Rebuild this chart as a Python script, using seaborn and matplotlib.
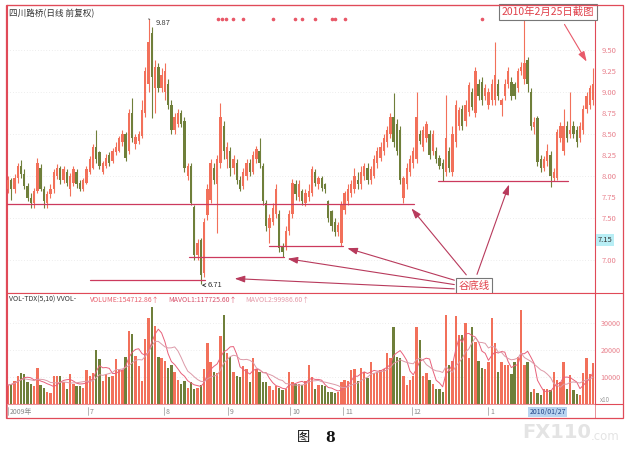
import numpy as np
import pandas as pd
import matplotlib.pyplot as plt
import seaborn as sns
from matplotlib.patches import Rectangle
from matplotlib.lines import Line2D

sns.set_style('white')
plt.rcParams['font.family'] = ['Noto Sans CJK SC', 'DejaVu Sans']

# daily candles, 四川路桥 2009-06 .. 2010-02-25
opens = [
    7.85, 7.95, 7.85, 7.98, 8.12, 8.02, 7.88, 7.74, 7.68, 7.82,
    8.10, 7.85, 7.68, 7.78, 7.84, 8.00, 8.10, 7.95, 8.05, 7.85,
    7.92, 8.05, 7.92, 7.85, 7.92, 8.05, 8.10, 8.35, 8.28, 8.05,
    8.12, 8.25, 8.18, 8.28, 8.30, 8.40, 8.50, 8.30, 8.75, 8.38,
    8.42, 8.48, 8.75, 9.10, 9.70, 9.05, 9.30, 9.05, 9.00, 9.10,
    8.85, 8.55, 8.62, 8.75, 8.65, 8.00, 8.12, 7.63, 7.06, 7.24,
    6.84, 7.54, 7.72, 8.10, 7.90, 8.15, 8.60, 8.20, 8.30, 8.10,
    8.15, 7.95, 7.88, 8.00, 8.15, 8.05, 8.20, 8.30, 8.12, 7.68,
    7.38, 7.45, 7.55, 7.55, 7.15, 7.15, 7.35, 7.55, 7.90, 7.75,
    7.82, 7.68, 7.75, 7.80, 8.05, 7.90, 7.98, 7.90, 7.70, 7.58,
    7.45, 7.33, 7.20, 7.60, 7.70, 7.80, 7.85, 7.95, 7.90, 8.00,
    8.10, 7.95, 8.00, 8.15, 8.22, 8.30, 8.40, 8.50, 8.70, 8.62,
    8.55, 7.74, 7.90, 8.05, 8.15, 8.20, 8.50, 8.35, 8.45, 8.50,
    8.30, 8.30, 8.22, 8.15, 8.05, 8.30, 8.05, 8.40, 8.60, 8.80,
    8.65, 8.76, 9.00, 8.75, 9.10, 9.12, 8.95, 8.85, 8.90, 8.90,
    9.10, 8.85, 8.95, 9.10, 9.12, 9.10, 9.05, 9.25, 9.15, 9.38,
    9.00, 8.58, 8.69, 8.20, 8.10, 8.18, 8.25, 7.98, 7.98, 8.45,
    8.30, 8.60, 8.50, 8.60, 8.55, 8.45, 8.55, 8.80, 8.85, 8.90,
]
highs = [
    8.00, 7.98, 8.02, 8.15, 8.19, 8.08, 7.92, 7.80, 7.86, 8.21,
    8.14, 7.88, 7.82, 7.90, 8.08, 8.14, 8.12, 8.12, 8.08, 8.04,
    8.12, 8.08, 7.95, 7.98, 8.12, 8.24, 8.38, 8.55, 8.30, 8.18,
    8.26, 8.28, 8.33, 8.40, 8.48, 8.55, 8.52, 8.80, 8.93, 8.50,
    8.54, 8.90, 9.30, 9.87, 9.78, 9.38, 9.35, 9.28, 9.35, 9.15,
    8.90, 8.75, 8.80, 8.78, 8.70, 8.15, 8.15, 7.65, 7.25, 7.26,
    7.50, 7.90, 8.20, 8.15, 8.25, 8.87, 8.65, 8.40, 8.35, 8.25,
    8.20, 8.00, 8.10, 8.20, 8.20, 8.30, 8.36, 8.45, 8.15, 7.72,
    7.55, 7.68, 7.90, 7.60, 7.20, 7.40, 7.60, 7.96, 7.95, 7.95,
    7.85, 7.85, 7.90, 8.12, 8.08, 8.00, 8.00, 7.92, 7.72, 7.60,
    7.50, 7.45, 7.70, 7.82, 7.90, 7.95, 8.10, 8.05, 8.12, 8.15,
    8.15, 8.12, 8.25, 8.35, 8.40, 8.50, 8.60, 8.75, 8.99, 8.68,
    8.60, 8.00, 8.15, 8.25, 8.35, 9.00, 8.55, 8.60, 8.66, 8.55,
    8.55, 8.35, 8.25, 8.20, 8.96, 8.35, 8.60, 8.90, 8.82, 8.85,
    8.90, 9.12, 9.05, 9.30, 9.15, 9.18, 9.10, 9.05, 9.15, 9.60,
    9.15, 8.93, 9.15, 9.30, 9.18, 9.12, 9.28, 9.36, 9.86, 9.42,
    9.05, 8.70, 8.72, 8.25, 8.24, 8.38, 8.30, 8.10, 8.56, 8.64,
    8.80, 8.65, 9.00, 8.65, 8.60, 8.64, 8.84, 9.00, 9.08, 9.29,
]
lows = [
    7.80, 7.72, 7.80, 7.92, 7.98, 7.84, 7.70, 7.62, 7.62, 7.80,
    7.82, 7.62, 7.62, 7.74, 7.80, 7.96, 7.90, 7.92, 7.88, 7.76,
    7.88, 7.86, 7.82, 7.82, 7.90, 8.02, 8.08, 8.15, 8.08, 8.02,
    8.10, 8.12, 8.15, 8.25, 8.28, 8.36, 8.18, 8.26, 8.40, 8.32,
    8.38, 8.45, 8.70, 9.00, 8.69, 8.75, 9.00, 9.00, 8.90, 8.80,
    8.50, 8.50, 8.58, 8.58, 8.05, 7.95, 7.65, 7.00, 7.00, 6.71,
    6.80, 7.48, 7.68, 7.90, 7.32, 8.10, 8.20, 8.10, 8.00, 8.02,
    7.90, 7.82, 7.85, 7.95, 8.00, 8.02, 8.15, 8.10, 7.66, 7.35,
    7.20, 7.42, 7.50, 7.10, 7.04, 7.12, 7.30, 7.50, 7.72, 7.70,
    7.65, 7.64, 7.70, 7.76, 7.88, 7.85, 7.82, 7.80, 7.45, 7.35,
    7.28, 7.28, 7.17, 7.55, 7.65, 7.75, 7.80, 7.85, 7.85, 7.95,
    7.90, 7.90, 7.98, 8.10, 8.18, 8.25, 8.35, 8.45, 8.35, 8.25,
    7.90, 7.68, 7.85, 8.00, 8.10, 8.15, 8.38, 8.30, 8.40, 8.20,
    8.25, 8.15, 8.08, 7.94, 8.00, 8.05, 8.00, 8.35, 8.55, 8.55,
    8.60, 8.72, 8.78, 8.70, 8.90, 8.85, 8.90, 8.80, 8.85, 8.85,
    8.90, 8.72, 8.90, 9.05, 8.90, 8.92, 9.00, 9.20, 9.10, 9.00,
    8.55, 8.50, 8.12, 8.05, 8.06, 8.12, 7.87, 7.94, 7.95, 8.40,
    8.25, 8.40, 8.45, 8.45, 8.35, 8.40, 8.50, 8.75, 8.80, 8.85,
]
closes = [
    7.95, 7.85, 7.98, 8.12, 8.02, 7.88, 7.74, 7.68, 7.82, 8.15,
    7.85, 7.70, 7.78, 7.84, 8.05, 8.10, 7.95, 8.08, 7.92, 8.00,
    8.08, 7.90, 7.85, 7.95, 8.08, 8.20, 8.35, 8.20, 8.12, 8.15,
    8.22, 8.15, 8.30, 8.35, 8.45, 8.50, 8.22, 8.75, 8.45, 8.47,
    8.50, 8.78, 9.25, 9.60, 9.18, 9.30, 9.05, 9.20, 9.25, 8.85,
    8.55, 8.70, 8.75, 8.62, 8.10, 8.12, 7.68, 7.06, 7.20, 6.82,
    7.45, 7.85, 8.15, 7.95, 8.20, 8.70, 8.30, 8.35, 8.10, 8.20,
    7.95, 7.85, 8.05, 8.15, 8.05, 8.25, 8.32, 8.15, 7.70, 7.40,
    7.50, 7.62, 7.85, 7.14, 7.10, 7.35, 7.55, 7.92, 7.78, 7.90,
    7.70, 7.80, 7.82, 8.08, 7.92, 7.98, 7.86, 7.85, 7.50, 7.40,
    7.33, 7.42, 7.65, 7.80, 7.85, 7.90, 8.00, 7.90, 8.05, 8.12,
    7.95, 8.08, 8.20, 8.30, 8.35, 8.45, 8.55, 8.70, 8.40, 8.30,
    7.95, 7.98, 8.10, 8.20, 8.30, 8.70, 8.42, 8.55, 8.62, 8.25,
    8.50, 8.20, 8.12, 8.08, 8.45, 8.10, 8.50, 8.85, 8.78, 8.60,
    8.85, 9.08, 8.82, 9.25, 8.95, 8.90, 9.05, 9.00, 9.10, 9.20,
    8.95, 8.90, 9.10, 9.25, 8.95, 8.95, 9.25, 9.30, 9.35, 9.10,
    8.60, 8.64, 8.17, 8.10, 8.20, 8.30, 8.00, 8.05, 8.52, 8.60,
    8.60, 8.45, 8.55, 8.50, 8.40, 8.60, 8.80, 8.95, 9.05, 9.10,
]
volumes = [
    7000, 7500, 8500, 10500, 11500, 11000, 8000, 7500, 6500, 13500,
    7000, 6000, 4500, 4200, 10500, 10500, 10500, 8000, 5500, 11000,
    7500, 6500, 6500, 6000, 12500, 10500, 11500, 20000, 16500, 8500,
    11000, 10000, 10500, 16500, 12500, 12700, 17500, 27000, 26000, 17800,
    14000, 8500, 24000, 32000, 36000, 29000, 17500, 17000, 16000, 13500,
    14500, 12000, 9000, 7500, 8500, 6000, 8000, 5500, 6000, 7000,
    13000, 22500, 15500, 11700, 11500, 25000, 33000, 18800, 17500, 12000,
    10500, 10000, 14000, 13000, 8000, 17000, 13000, 12000, 8000, 8000,
    6500, 5000, 6500, 6000, 5000, 5500, 12000, 8000, 7500, 7500,
    7000, 8500, 14500, 10000, 5500, 7000, 7000, 6500, 4500, 4500,
    4000, 4500, 8300, 9000, 8500, 12500, 13000, 8500, 13500, 12000,
    9500, 15700, 11500, 12000, 12500, 13000, 18800, 17000, 28600, 17500,
    17000, 10500, 7000, 9000, 10500, 28600, 23700, 10500, 11500, 9000,
    7500, 5500, 5500, 4300, 33000, 14500, 16000, 32700, 25500, 25500,
    30000, 17000, 28600, 22800, 16000, 13500, 13000, 15500, 31700, 22500,
    11700, 15700, 14500, 14500, 11000, 15500, 17300, 34800, 14500, 15500,
    4500, 5500, 4000, 3500, 5500, 5500, 5000, 11700, 9000, 8000,
    15700, 5500, 10700, 5000, 3800, 3500, 11500, 17200, 11000, 15300,
]

# month labels on the date strip (candle index where each month starts)
month_labels = ['2009年', '7', '8', '9', '10', '11', '12', '1']
month_pos = [0, 24.5, 47.7, 67.3, 86.3, 102.5, 123.5, 147]

# 谷底线 (valley lines): start index, end index, price
valley_start = [-0.3, 80.0, 55.5, 25.0, 131.5]
valley_end = [124.3, 102.5, 84.3, 60.3, 171.3]
valley_price = [7.67, 7.17, 7.04, 6.76, 7.94]

# arrow tips on the valley lines
arrow_tip_x = [103.0, 122.9, 153.6, 84.7, 68.5]
arrow_tip_y = [7.15, 7.64, 7.93, 7.02, 6.78]

# little red signal dots along the top
signal_idx = [64.3, 65.5, 66.7, 68.8, 71.9, 81.1, 87.8, 90.0, 93.9, 99.1, 100.1, 103.1, 144.9]

price_ticks = [7.00, 7.50, 7.75, 8.00, 8.25, 8.50, 8.75, 9.00, 9.25, 9.50]
vol_ticks = [10000, 20000, 30000]

UP = '#f2705a'
DOWN = '#6f7f3a'
FRAME = '#e04a58'
AXTXT = '#e8808c'
LINE = '#cc3a5e'

df = pd.DataFrame({'open': opens, 'high': highs, 'low': lows,
                   'close': closes, 'volume': volumes})
df['idx'] = np.arange(len(df))
df['color'] = np.where(df['close'] >= df['open'], UP, DOWN)
df['ma5'] = df['volume'].rolling(5, min_periods=1).mean()
df['ma10'] = df['volume'].rolling(10, min_periods=1).mean()

W, H = 630, 451
fig = plt.figure(figsize=(W / 100, H / 100), dpi=100)


def rect(x0, y0, x1, y1):
    return [x0 / W, 1 - y1 / H, (x1 - x0) / W, (y1 - y0) / H]


def fpos(x, y):
    return x / W, 1 - y / H


def to_data(x, y):
    # pixel in the scan -> (candle index, price)
    return (x - 8) / 3.268, 7 + (260 - y) / 84


ax = fig.add_axes(rect(7, 5, 595, 293))
axv = fig.add_axes(rect(7, 293, 595, 404))
axd = fig.add_axes(rect(7, 404, 595, 418))

xlim = (-0.3, 179.6)

# ---- price panel
for lv in [7.0, 7.5, 8.0, 8.5, 9.0, 9.5]:
    ax.axhline(lv, color='#dcdcdc', lw=0.5, ls=(0, (1, 3)), zorder=0)
ax.vlines(df['idx'], df['low'], df['high'], colors=df['color'], lw=0.8, zorder=2)
body = (df['close'] - df['open']).abs().clip(lower=0.012)
ax.bar(df['idx'], body, bottom=df[['open', 'close']].min(axis=1), width=0.72,
       color=df['color'], linewidth=0, zorder=3)

for s, e, p in zip(valley_start, valley_end, valley_price):
    ax.plot([s, e], [p, p], color=LINE, lw=0.9, zorder=4)

box_x, box_y = to_data(474, 286)
tails = [to_data(457, 281), to_data(468, 277), to_data(476, 277),
         to_data(457, 285), to_data(457, 289)]
for (tx, ty), hx, hy in zip(tails, arrow_tip_x, arrow_tip_y):
    ax.annotate('', xy=(hx, hy), xytext=(tx, ty),
                arrowprops=dict(arrowstyle='-|>,head_length=0.6,head_width=0.2',
                                color='#b83a5c', lw=0.8), zorder=5)
ax.text(box_x, box_y, '谷底线', color='#e0404a', fontsize=7.5, ha='center', va='center',
        zorder=6, bbox=dict(boxstyle='square,pad=0.25', fc='white', ec='#777777', lw=0.8))

ax.plot(signal_idx, [9.87] * len(signal_idx), 'o', ms=1.6, color='#e85868', zorder=4)

ax.annotate('9.87', xy=(43, 9.87), xytext=(45.2, 9.82), fontsize=5.5, color='#333333',
            va='center', arrowprops=dict(arrowstyle='-', color='#333333', lw=0.6))
ax.annotate('6.71', xy=(59.3, 6.70), xytext=(61.0, 6.70), fontsize=5.5, color='#333333',
            va='center', arrowprops=dict(arrowstyle='->', color='#333333', lw=0.6))

ax.text(0.004, 0.988, '四川路桥(日线 前复权)', transform=ax.transAxes, fontsize=6.2,
        color='#333333', va='top', ha='left')

tx, ty = to_data(548, 12)
ax.text(tx, ty, '2010年2月25日截图', color='#e0404a', fontsize=7.5, ha='center', va='center',
        zorder=6, bbox=dict(boxstyle='square,pad=0.25', fc='white', ec='#777777', lw=0.8))
ax.annotate('', xy=to_data(588, 64), xytext=to_data(563, 22),
            arrowprops=dict(arrowstyle='-|>,head_length=0.6,head_width=0.2',
                            color='#e85a6a', lw=0.8), annotation_clip=False)

ax.set_xlim(*xlim)
ax.set_ylim(6.607, 10.036)
ax.yaxis.tick_right()
ax.set_yticks(price_ticks)
ax.set_yticklabels([f'{t:.2f}' for t in price_ticks])
ax.tick_params(axis='y', length=0, pad=5, labelsize=5.5, labelcolor=AXTXT)
ax.set_xticks([])
for sp in ax.spines.values():
    sp.set_color(FRAME)
    sp.set_linewidth(0.8)

# ---- volume panel
for lv in vol_ticks:
    axv.axhline(lv, color='#dcdcdc', lw=0.5, ls=(0, (1, 3)), zorder=0)
axv.bar(df['idx'], df['volume'], width=0.72, color=df['color'], linewidth=0, zorder=2)
sns.lineplot(x=df['idx'], y=df['ma5'], ax=axv, color='#e8607a', lw=0.7, zorder=3)
sns.lineplot(x=df['idx'], y=df['ma10'], ax=axv, color='#dc9aa8', lw=0.7, zorder=3)
axv.set_xlim(*xlim)
axv.set_ylim(0, 41100)
axv.yaxis.tick_right()
axv.set_yticks(vol_ticks)
axv.set_yticklabels([str(v) for v in vol_ticks])
axv.tick_params(axis='y', length=0, pad=4, labelsize=5.2, labelcolor=AXTXT)
axv.set_xticks([])
axv.set_xlabel('')
axv.set_ylabel('')
for sp in axv.spines.values():
    sp.set_color(FRAME)
    sp.set_linewidth(0.8)

fig.text(*fpos(9, 300), 'VOL-TDX(5,10) VVOL-', fontsize=5, color='#333333', va='center')
fig.text(*fpos(90, 300), 'VOLUME:154712.86↑', fontsize=5, color='#e8606e', va='center')
fig.text(*fpos(168, 300), 'MAVOL1:117725.60↑', fontsize=5, color='#d8506a', va='center')
fig.text(*fpos(245, 300), 'MAVOL2:99986.60↑', fontsize=5, color='#e49aa8', va='center')

# ---- date strip
axd.set_xlim(*xlim)
axd.set_ylim(0, 1)
for lab, pos in zip(month_labels, month_pos):
    axd.plot([pos, pos], [0.2, 0.8], color='#999999', lw=0.5)
    axd.text(pos + 0.6, 0.45, lab, fontsize=5, color='#888888', va='center', ha='left')
axd.text(159.5, 0.45, '2010/01/27', fontsize=5, color='#224488', va='center', ha='left',
         bbox=dict(boxstyle='square,pad=0.15', fc='#b8d4f0', ec='none'))
axd.set_xticks([])
axd.set_yticks([])
for sp in axd.spines.values():
    sp.set_color('#e89098')
    sp.set_linewidth(0.7)

# ---- outer frame and right column
fig.add_artist(Rectangle(fpos(6, 418), 617 / W, 413 / H, transform=fig.transFigure,
                         fill=False, ec=FRAME, lw=0.9))
for yy in [293, 404]:
    fig.add_artist(Line2D([595 / W, 623 / W], [1 - yy / H] * 2, transform=fig.transFigure,
                          color=FRAME, lw=0.8))
fig.text(*fpos(598, 240), '7.15', fontsize=5.5, color='#333333', va='center', ha='left',
         bbox=dict(boxstyle='square,pad=0.2', fc='#b8eef5', ec='none'))
fig.text(*fpos(600, 400), 'x10', fontsize=4.5, color='#999999', va='center', ha='left')

# ---- caption and watermark
fig.text(*fpos(522, 432), 'FX110', fontsize=14, fontweight='bold', color='#e4e4e4',
         va='center', ha='left', family='DejaVu Sans')
fig.text(*fpos(591, 436), '.com', fontsize=8.5, color='#e4e4e4', va='center', ha='left',
         family='DejaVu Sans')
fig.text(*fpos(304, 438), '图', fontsize=9.5, color='#111111', va='center', ha='center')
fig.text(*fpos(330, 438), '8', fontsize=10, fontweight='bold', color='#111111',
         va='center', ha='center', family='DejaVu Serif')

fig.savefig('out.png', dpi=100)
